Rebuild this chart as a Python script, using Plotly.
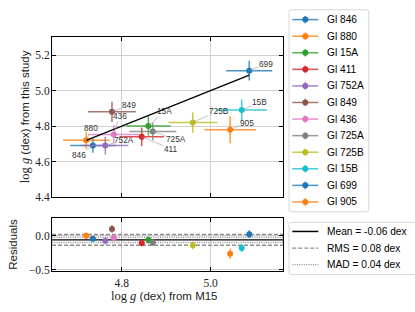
import plotly.graph_objects as go

# ---- data ----
star_names = ['Gl 846', 'Gl 880', 'Gl 15A', 'Gl 411', 'Gl 752A', 'Gl 849',
              'Gl 436', 'Gl 725A', 'Gl 725B', 'Gl 15B', 'Gl 699', 'Gl 905']
short_labels = ['846', '880', '15A', '411', '752A', '849',
                '436', '725A', '725B', '15B', '699', '905']
logg_m15 = [4.735, 4.720, 4.860, 4.845, 4.763, 4.778, 4.782, 4.870, 4.960, 5.070, 5.087, 5.044]
logg_study = [4.690, 4.720, 4.800, 4.740, 4.690, 4.880, 4.752, 4.770, 4.820, 4.890, 5.112, 4.780]
err_m15 = [0.051, 0.052, 0.050, 0.050, 0.052, 0.054, 0.057, 0.053, 0.055, 0.057, 0.052, 0.058]
err_study = [0.040, 0.046, 0.055, 0.052, 0.050, 0.057, 0.052, 0.050, 0.058, 0.060, 0.056, 0.076]
residuals = [s - m for s, m in zip(logg_study, logg_m15)]
stat_mean = -0.06
stat_rms = 0.08
stat_mad = 0.04
stat_labels = ['Mean = -0.06 dex', 'RMS = 0.08 dex', 'MAD = 0.04 dex']

# ---- style ----
colors = ['#1f77b4', '#ff7f0e', '#2ca02c', '#d62728', '#9467bd', '#8c564b',
          '#e377c2', '#7f7f7f', '#bcbd22', '#17becf', '#1f77b4', '#ff7f0e']
label_offsets = [(-14, 9), (5, -12), (16, -15), (29, 12), (19, -6), (17, -7),
                 (6, -19), (23, 8), (26, -12), (18, -8), (17, -7), (17, -7)]

W, H = 415, 312
X_RANGE = [4.643, 5.163]
SANS = 'Liberation Sans'
SERIF = 'Liberation Serif'
GRAY = '#8f8f8f'
DASH = '4px,2px'
DOT = '1px,1.3px'
CLEAR = 'rgba(0,0,0,0)'


def rgba(hexc, a):
    h = hexc.lstrip('#')
    return 'rgba(%d,%d,%d,%.2f)' % (int(h[0:2], 16), int(h[2:4], 16), int(h[4:6], 16), a)


def rounded_rect(x0, y0, x1, y1, r=2.5):
    return ('M %f %f L %f %f Q %f %f %f %f L %f %f Q %f %f %f %f L %f %f Q %f %f %f %f '
            'L %f %f Q %f %f %f %f Z') % (
        x0 + r, y0, x1 - r, y0, x1, y0, x1, y0 + r, x1, y1 - r, x1, y1, x1 - r, y1,
        x0 + r, y1, x0, y1, x0, y1 - r, x0, y0 + r, x0, y0, x0 + r, y0)


fig = go.Figure()

# main panel
for i, name in enumerate(star_names):
    c = colors[i]
    fig.add_trace(go.Scatter(
        x=[logg_m15[i]], y=[logg_study[i]], mode='markers', name=name, showlegend=False,
        marker=dict(color=c, size=6),
        error_x=dict(type='data', array=[err_m15[i]], color=rgba(c, 0.8), thickness=1.5, width=0),
        error_y=dict(type='data', array=[err_study[i]], color=rgba(c, 0.8), thickness=1.5, width=0),
        xaxis='x', yaxis='y'))

# 1:1 line
xmin, xmax = min(logg_m15), max(logg_m15)
fig.add_trace(go.Scatter(x=[xmin, xmax], y=[xmin, xmax], mode='lines',
                         line=dict(color='black', width=1.3), showlegend=False,
                         xaxis='x', yaxis='y'))

# residual panel
xa, xb = X_RANGE
fig.add_trace(go.Scatter(x=[xa, xb, None, xa, xb],
                         y=[stat_mean + stat_rms, stat_mean + stat_rms, None, stat_mean - stat_rms, stat_mean - stat_rms],
                         mode='lines', showlegend=False,
                         line=dict(color=GRAY, width=1.5, dash=DASH), xaxis='x2', yaxis='y2'))
fig.add_trace(go.Scatter(x=[xa, xb, None, xa, xb],
                         y=[stat_mean + stat_mad, stat_mean + stat_mad, None, stat_mean - stat_mad, stat_mean - stat_mad],
                         mode='lines', showlegend=False,
                         line=dict(color=GRAY, width=1.5, dash=DOT), xaxis='x2', yaxis='y2'))
fig.add_trace(go.Scatter(x=[xa, xb], y=[stat_mean, stat_mean], mode='lines', showlegend=False,
                         line=dict(color='black', width=1.2), xaxis='x2', yaxis='y2'))
for i, name in enumerate(star_names):
    c = colors[i]
    fig.add_trace(go.Scatter(
        x=[logg_m15[i]], y=[residuals[i]], mode='markers', showlegend=False,
        marker=dict(color=c, size=6),
        error_y=dict(type='data', array=[err_study[i]], color=rgba(c, 0.8), thickness=1.5, width=0),
        xaxis='x2', yaxis='y2'))

# ---- hand-built legends on a transparent pixel overlay axis ----
LEG_X0, LEG_LINE0, LEG_LINE1, LEG_TEXT = 289, 292.3, 318.3, 326.7
TXT_PAD = 2
LEG_FONT = 10.2
leg1_y0, leg_step = 20.0, 16.9
shapes = [dict(type='path', xref='x3', yref='y3', path=rounded_rect(LEG_X0, 10, 368.7, 216),
               line=dict(color='#d6d6d6', width=1), fillcolor='white', layer='below'),
          dict(type='path', xref='x3', yref='y3', path=rounded_rect(LEG_X0, 226.7, 440, 280),
               line=dict(color='#d6d6d6', width=1), fillcolor='white', layer='below')]

annotations = []
for i, name in enumerate(star_names):
    yk = leg1_y0 + i * leg_step
    fig.add_trace(go.Scatter(x=[LEG_LINE0, LEG_LINE1], y=[yk, yk], mode='lines', showlegend=False,
                             line=dict(color=rgba(colors[i], 0.8), width=1.5), xaxis='x3', yaxis='y3',
                             hoverinfo='skip'))
    fig.add_trace(go.Scatter(x=[(LEG_LINE0 + LEG_LINE1) / 2], y=[yk], mode='markers', showlegend=False,
                             marker=dict(color=colors[i], size=6),
                             error_y=dict(type='data', array=[3.8], color=rgba(colors[i], 0.8),
                                          thickness=1.5, width=0),
                             xaxis='x3', yaxis='y3', hoverinfo='skip'))
    annotations.append(dict(x=LEG_TEXT - TXT_PAD, y=yk, xref='x3', yref='y3', text=name, showarrow=False,
                            xanchor='left', yanchor='middle',
                            font=dict(family=SANS, size=LEG_FONT, color='black')))

leg2_y0 = 236.0
stat_styles = [dict(color='black', width=1.5), dict(color=GRAY, width=1.2, dash=DASH),
               dict(color=GRAY, width=1.2, dash=DOT)]
for k, lab in enumerate(stat_labels):
    yk = leg2_y0 + k * leg_step
    fig.add_trace(go.Scatter(x=[LEG_LINE0, LEG_LINE1], y=[yk, yk], mode='lines', showlegend=False,
                             line=stat_styles[k], xaxis='x3', yaxis='y3', hoverinfo='skip'))
    annotations.append(dict(x=LEG_TEXT - TXT_PAD, y=yk, xref='x3', yref='y3', text=lab, showarrow=False,
                            xanchor='left', yanchor='middle',
                            font=dict(family=SANS, size=LEG_FONT, color='black')))

# point labels
for i, lab in enumerate(short_labels):
    ax_, ay_ = label_offsets[i]
    annotations.append(dict(x=logg_m15[i], y=logg_study[i], xref='x', yref='y', text=lab,
                            showarrow=True, arrowhead=0, arrowwidth=0.6, arrowcolor='#999999',
                            ax=ax_, ay=ay_, standoff=0, startstandoff=0, borderpad=0,
                            font=dict(family=SANS, size=8.3, color='#333333')))

# axis titles
logg_html = "<span style='font-family:%s;font-size:12.5px'>log <i>g</i></span>" % SERIF
annotations.append(dict(x=25 / W, y=1 - 119.5 / H, xref='paper', yref='paper', showarrow=False,
                        xanchor='center', yanchor='middle', textangle=-90, borderpad=0,
                        text=logg_html + " (dex) from this study",
                        font=dict(family=SANS, size=11.5, color='#222222')))
annotations.append(dict(x=13 / W, y=1 - 249.5 / H, xref='paper', yref='paper', showarrow=False,
                        xanchor='center', yanchor='middle', textangle=-90, text='Residuals', borderpad=0,
                        font=dict(family=SANS, size=11.5, color='#222222')))
annotations.append(dict(x=164 / W, y=1 - 302 / H, xref='paper', yref='paper', showarrow=False,
                        xanchor='center', yanchor='middle', borderpad=0,
                        text=logg_html + " (dex) from M15",
                        font=dict(family=SANS, size=11.5, color='#222222')))

axis_common = dict(showline=True, linecolor='black', linewidth=1, mirror='ticks',
                   ticks='inside', ticklen=4, tickcolor='black', tickwidth=1,
                   showgrid=True, gridcolor='#d0d0d0', gridwidth=1, zeroline=False,
                   tickfont=dict(family=SERIF, size=11.5, color='#222222'))

fig.update_layout(
    width=W, height=H, margin=dict(l=0, r=0, t=0, b=0),
    plot_bgcolor=CLEAR, paper_bgcolor='white', showlegend=False,
    xaxis=dict(domain=[52 / W, 283 / W], range=X_RANGE, dtick=0.2, tick0=4.0,
               showticklabels=False, anchor='y', **axis_common),
    yaxis=dict(domain=[1 - 201 / H, 1 - 38 / H], range=[4.4, 5.3], dtick=0.2, tick0=4.0,
               tickformat='.1f', anchor='x', ticklabelstandoff=-1, **axis_common),
    xaxis2=dict(domain=[52 / W, 283 / W], range=X_RANGE, dtick=0.2, tick0=4.0,
                tickformat='.1f', anchor='y2', matches='x', ticklabelstandoff=1, **axis_common),
    yaxis2=dict(domain=[1 - 276.7 / H, 1 - 222.5 / H], range=[-0.525, 0.26], dtick=0.5, tick0=0,
                tickformat='.1f', anchor='x2', ticklabelstandoff=-1, **axis_common),
    xaxis3=dict(domain=[0, 1], range=[0, W], visible=False, anchor='y3', fixedrange=True),
    yaxis3=dict(domain=[0, 1], range=[H, 0], visible=False, anchor='x3', fixedrange=True),
    shapes=shapes,
    annotations=annotations,
)

fig.write_html('out.html', config={'displayModeBar': False, 'staticPlot': True},
               post_script="document.body.style.margin='0px';")
